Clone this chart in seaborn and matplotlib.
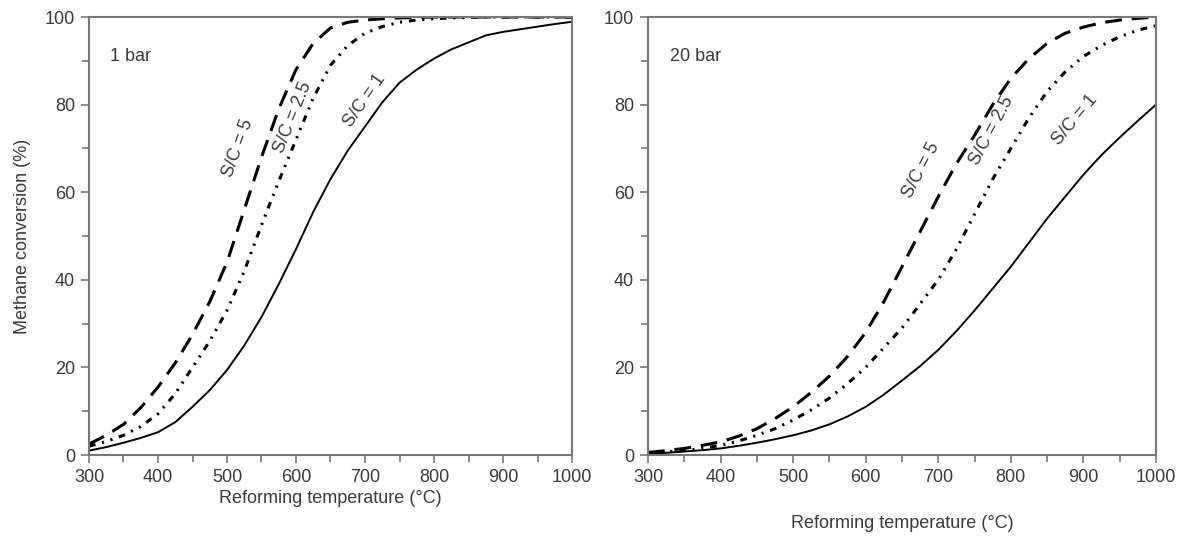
import matplotlib
matplotlib.use("Agg")
import matplotlib.pyplot as plt
import seaborn as sns
import pandas as pd
from matplotlib.ticker import MultipleLocator

# ---- data (every 25 degC) ----
temps = [300, 325, 350, 375, 400, 425, 450, 475, 500, 525, 550, 575, 600, 625, 650,
         675, 700, 725, 750, 775, 800, 825, 850, 875, 900, 925, 950, 975, 1000]

sc1_1bar = [1.0, 1.8, 2.8, 3.9, 5.2, 7.5, 11.0, 14.8, 19.4, 25.0, 31.5, 39.0, 47.0, 55.5, 63.0,
            69.5, 75.0, 80.5, 85.0, 88.0, 90.5, 92.6, 94.2, 95.8, 96.6, 97.2, 97.8, 98.4, 98.9]
sc25_1bar = [2.0, 3.1, 4.5, 6.5, 9.4, 14.0, 20.0, 26.0, 33.0, 42.0, 52.5, 62.5, 72.0, 81.5, 89.0,
             93.5, 96.3, 97.8, 98.8, 99.3, 99.6, 99.8, 99.9, 100.0, 100.0, 100.0, 100.0, 100.0, 100.0]
sc5_1bar = [2.5, 4.5, 7.0, 10.8, 15.5, 21.0, 27.5, 35.0, 44.0, 56.0, 68.0, 79.0, 88.0, 94.0, 97.5,
            98.8, 99.3, 99.6, 99.8, 99.9, 100.0, 100.0, 100.0, 100.0, 100.0, 100.0, 100.0, 100.0, 100.0]

sc1_20bar = [0.3, 0.5, 0.8, 1.1, 1.5, 2.1, 2.8, 3.6, 4.5, 5.6, 7.0, 8.8, 11.0, 13.8, 17.0,
             20.3, 24.0, 28.3, 33.0, 38.0, 43.0, 48.5, 54.0, 59.0, 64.0, 68.5, 72.5, 76.3, 80.0]
sc25_20bar = [0.5, 0.7, 1.0, 1.5, 2.2, 3.2, 4.5, 6.0, 8.0, 10.3, 13.0, 16.3, 20.0, 24.5, 29.0,
              34.5, 40.0, 47.0, 55.0, 63.0, 70.0, 77.0, 83.0, 87.5, 91.0, 93.5, 95.5, 97.0, 98.0]
sc5_20bar = [0.6, 1.0, 1.5, 2.2, 3.0, 4.3, 6.0, 8.3, 11.0, 14.3, 18.0, 22.5, 28.0, 35.0, 43.0,
             51.0, 59.0, 66.5, 73.0, 80.0, 86.0, 90.5, 94.0, 96.3, 97.7, 98.7, 99.3, 99.7, 100.0]

series_labels = ["S/C = 1", "S/C = 2.5", "S/C = 5"]
panel_titles = ["1 bar", "20 bar"]
x_ticks = [300, 400, 500, 600, 700, 800, 900, 1000]
y_ticks = [0, 20, 40, 60, 80, 100]

# ---- style ----
sns.set_theme(style="ticks")
plt.rcParams["font.family"] = ["Liberation Sans", "DejaVu Sans"]

text_c = "#3a3a3a"
spine_c = "#777777"
fs = 13

fig = plt.figure(figsize=(11.89, 5.40), dpi=100)
ax1 = fig.add_axes([89 / 1189, 1 - 455 / 540, (572 - 89) / 1189, (455 - 17) / 540])
ax2 = fig.add_axes([648 / 1189, 1 - 455 / 540, (1156 - 648) / 1189, (455 - 17) / 540])

styles = {
    "S/C = 1": dict(linestyle="-", linewidth=1.4),
    "S/C = 2.5": dict(linestyle=(0, (2.2, 2.2, 0.7, 2.2, 0.7, 2.2)), linewidth=2.2),
    "S/C = 5": dict(linestyle=(0, (5.5, 3.2)), linewidth=2.2),
}

panels = [
    (ax1, [sc1_1bar, sc25_1bar, sc5_1bar], panel_titles[0]),
    (ax2, [sc1_20bar, sc25_20bar, sc5_20bar], panel_titles[1]),
]

for ax, ys, title in panels:
    for lab, y in zip(series_labels, ys):
        df = pd.DataFrame({"T": temps, "conv": y})
        sns.lineplot(data=df, x="T", y="conv", ax=ax, color="black",
                     estimator=None, legend=False, **styles[lab])
    ax.set_xlim(300, 1000)
    ax.set_ylim(0, 100)
    ax.set_xticks(x_ticks)
    ax.set_yticks(y_ticks)
    ax.xaxis.set_minor_locator(MultipleLocator(50))
    ax.yaxis.set_minor_locator(MultipleLocator(10))
    ax.tick_params(which="major", direction="out", length=6, width=1.2,
                   color=spine_c, labelsize=fs, labelcolor=text_c, pad=4)
    ax.tick_params(which="minor", direction="out", length=5, width=1.2, color=spine_c)
    for s in ax.spines.values():
        s.set_color(spine_c)
        s.set_linewidth(1.5)
    ax.text(330, 91, title, fontsize=fs, color=text_c, ha="left", va="center")
    ax.set_ylabel("")
    ax.set_xlabel("Reforming temperature (\u00b0C)", fontsize=fs, color=text_c)

ax1.xaxis.labelpad = 3
ax2.xaxis.labelpad = 21
ax1.set_ylabel("Methane conversion (%)", fontsize=fs, color=text_c, labelpad=10)

# rotated curve labels
lab_kw = dict(fontsize=fs, color=text_c, ha="center", va="center", rotation_mode="anchor")
ax1.text(516, 70, "S/C = 5", rotation=70, **lab_kw)
ax1.text(596, 77, "S/C = 2.5", rotation=68, **lab_kw)
ax1.text(700, 81, "S/C = 1", rotation=55, **lab_kw)
ax2.text(677, 65, "S/C = 5", rotation=62, **lab_kw)
ax2.text(774, 74, "S/C = 2.5", rotation=62, **lab_kw)
ax2.text(888, 76.5, "S/C = 1", rotation=50, **lab_kw)

fig.savefig("out.png", dpi=100, facecolor="white")
